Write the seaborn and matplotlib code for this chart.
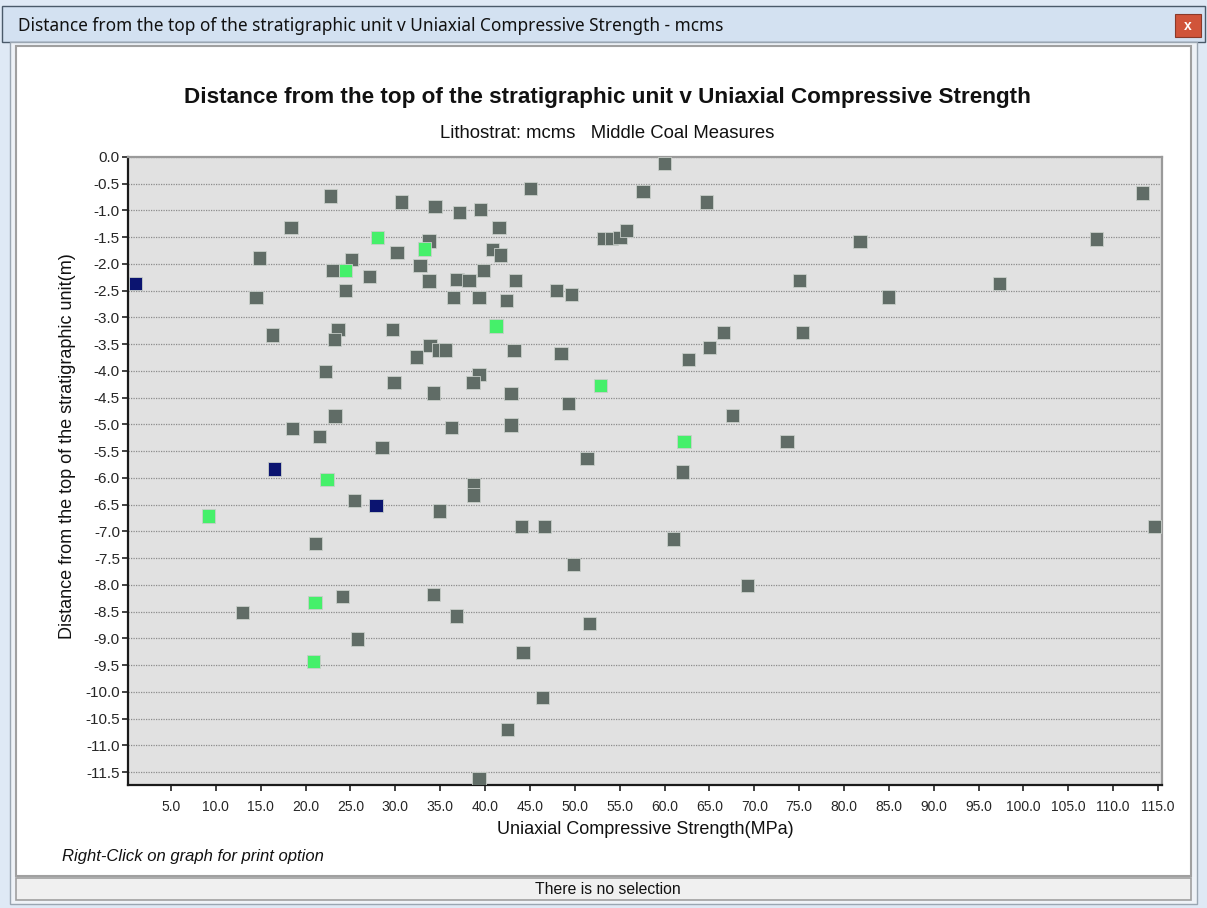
import numpy as np
import pandas as pd
import matplotlib
matplotlib.use("Agg")
import matplotlib.pyplot as plt
import seaborn as sns
from matplotlib.patches import Rectangle

# UCS (MPa) against depth below top of unit (m)
gray_ucs = [22.75, 30.71, 34.42, 37.13, 39.51, 18.37, 33.75, 30.18, 14.84, 25.14,
            23.02, 32.75, 27.14, 33.75, 36.87, 38.21, 14.47, 24.42, 36.46, 23.61,
            23.24, 29.70, 16.33, 33.86, 34.86, 35.61, 32.38, 22.24, 29.85, 34.23,
            23.28, 18.52, 36.28, 21.53, 28.51, 59.97, 45.08, 57.59, 64.69, 41.55,
            53.17, 54.11, 55.03, 55.78, 40.85, 41.69, 39.84, 43.41, 47.98, 49.65,
            39.32, 42.36, 75.01, 66.54, 75.34, 43.22, 48.46, 65.02, 62.69, 39.32,
            38.65, 42.89, 49.31, 42.89, 67.59, 73.64, 51.35, 113.23, 81.77, 108.15,
            97.29, 84.97, 25.43, 34.90, 38.69, 38.69, 21.08, 12.95, 24.09, 34.23,
            36.79, 25.76, 61.97, 44.03, 46.60, 60.97, 49.83, 69.26, 51.65, 44.22,
            46.42, 42.52, 39.32, 114.56]
gray_depth = [-0.73, -0.84, -0.92, -1.04, -0.98, -1.32, -1.57, -1.78, -1.89, -1.92,
              -2.12, -2.03, -2.23, -2.32, -2.29, -2.31, -2.63, -2.49, -2.63, -3.22,
              -3.41, -3.22, -3.33, -3.53, -3.61, -3.61, -3.74, -4.01, -4.22, -4.41,
              -4.84, -5.07, -5.06, -5.23, -5.43, -0.12, -0.59, -0.64, -0.84, -1.32,
              -1.52, -1.52, -1.50, -1.38, -1.73, -1.83, -2.12, -2.31, -2.49, -2.57,
              -2.63, -2.68, -2.31, -3.28, -3.28, -3.62, -3.67, -3.56, -3.79, -4.07,
              -4.21, -4.42, -4.61, -5.01, -4.83, -5.32, -5.63, -0.67, -1.58, -1.53,
              -2.37, -2.62, -6.42, -6.62, -6.12, -6.32, -7.22, -8.52, -8.21, -8.18,
              -8.58, -9.01, -5.89, -6.91, -6.91, -7.14, -7.62, -8.01, -8.72, -9.26,
              -10.11, -10.70, -11.62, -6.91]
green_ucs = [27.99, 33.23, 24.42, 41.21, 52.84, 62.16, 22.38, 9.20, 21.05, 20.90]
green_depth = [-1.50, -1.72, -2.12, -3.16, -4.27, -5.32, -6.03, -6.71, -8.33, -9.43]
navy_ucs = [1.07, 16.51, 27.84]
navy_depth = [-2.37, -5.83, -6.51]

groups = ["gray", "green", "navy"]
group_colors = {"gray": "#606c66", "green": "#45f06a", "navy": "#0b1470"}

df = pd.concat([
    pd.DataFrame({"ucs": gray_ucs, "depth": gray_depth, "group": "gray"}),
    pd.DataFrame({"ucs": green_ucs, "depth": green_depth, "group": "green"}),
    pd.DataFrame({"ucs": navy_ucs, "depth": navy_depth, "group": "navy"}),
], ignore_index=True)

sns.set_theme(style="white")
plt.rcParams["font.family"] = ["Liberation Sans", "DejaVu Sans"]
plt.rcParams["axes.unicode_minus"] = False

W, H = 1207, 908
fig = plt.figure(figsize=(W / 100, H / 100), dpi=100)
fig.patch.set_facecolor("white")


def px_rect(x0, y0, x1, y1, **kw):
    # rectangle given in pixel coords (origin top-left), kept behind the axes
    fig.patches.append(Rectangle((x0 / W, 1 - y1 / H), (x1 - x0) / W, (y1 - y0) / H,
                                 transform=fig.transFigure, zorder=-5, **kw))


# window chrome
px_rect(0, 0, W, H, facecolor="#dfe9f5", edgecolor="none")
px_rect(2, 6, W - 2, 42, facecolor="#d3e1f1", edgecolor="#4a5a6a", linewidth=1.0)
px_rect(10, 42, W - 10, H - 4, facecolor="#eef2f7", edgecolor="#9aa6b2", linewidth=1.0)
px_rect(16, 46, W - 16, 876, facecolor="white", edgecolor="#a0a0a0", linewidth=1.5)
px_rect(16, 878, W - 16, 900, facecolor="#f0f0f0", edgecolor="#a0a0a0", linewidth=1.2)
px_rect(1175, 14, 1201, 37, facecolor="#d0543a", edgecolor="#8a3a2a", linewidth=0.8)
fig.text(1188 / W, 1 - 26 / H, "x", color="white", fontsize=10, fontweight="bold",
         ha="center", va="center")
fig.text(18 / W, 1 - 26 / H, "Distance from the top of the stratigraphic unit v Uniaxial Compressive Strength - mcms",
         fontsize=12.4, ha="left", va="center", color="#111111", family=["Noto Sans", "DejaVu Sans"])

ax = fig.add_axes([128.3 / W, 1 - 785 / H, (1161.7 - 128.3) / W, (785 - 157) / H])
ax.set_zorder(2)
ax.set_facecolor("#e1e1e1")

sns.scatterplot(data=df, x="ucs", y="depth", hue="group", hue_order=groups,
                palette=group_colors, marker="s", s=92, edgecolor="#c8cec9",
                linewidth=0.6, legend=False, ax=ax, zorder=3)

ax.set_xlim(0.25, 115.4)
ax.set_ylim(-11.74, 0.0)
ax.set_xticks(np.arange(5, 116, 5))
ax.set_xticklabels([f"{v:.1f}" for v in np.arange(5, 116, 5)])
yt = np.arange(0, -11.51, -0.5)
ax.set_yticks(yt)
ax.set_yticklabels([f"{v:.1f}" if abs(v) > 1e-9 else "0.0" for v in yt])
ax.tick_params(axis="both", direction="out", length=4.5, width=1.2, color="#222222",
               bottom=True, left=True)
ax.tick_params(axis="x", labelsize=10, pad=6)
ax.tick_params(axis="y", labelsize=11, pad=1.5)

ax.yaxis.grid(True, linestyle=(0, (1, 1)), color="#8c8c8c", linewidth=0.9)
ax.xaxis.grid(False)
ax.set_axisbelow(True)

for side in ["left", "bottom"]:
    ax.spines[side].set_color("#1a1a1a")
    ax.spines[side].set_linewidth(1.6)
for side in ["top", "right"]:
    ax.spines[side].set_color("#9a9a9a")
    ax.spines[side].set_linewidth(1.6)

ax.set_xlabel("Uniaxial Compressive Strength(MPa)", fontsize=13, color="#111111")
ax.set_ylabel("Distance from the top of the stratigraphic unit(m)", fontsize=13, color="#111111")
ax.xaxis.set_label_coords((645 - 128.3) / 1033.4, -(821 - 785) / 628)
ax.yaxis.set_label_coords((76 - 128.3) / 1033.4, (785 - 446) / 628)

fig.text(607 / W, 1 - 97 / H, "Distance from the top of the stratigraphic unit v Uniaxial Compressive Strength",
         fontsize=16.2, fontweight="bold", ha="center", va="center", color="#111111")
fig.text(607 / W, 1 - 133 / H, "Lithostrat: mcms   Middle Coal Measures",
         fontsize=13.3, ha="center", va="center", color="#111111")
fig.text(62 / W, 1 - 857 / H, "Right-Click on graph for print option",
         fontsize=12, style="italic", ha="left", va="center", color="#111111")
fig.text(608 / W, 1 - 889 / H, "There is no selection",
         fontsize=11.3, ha="center", va="center", color="#111111")

fig.savefig("out.png", dpi=100)
